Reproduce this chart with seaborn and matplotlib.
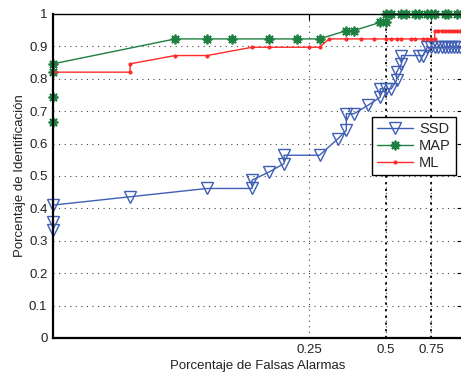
import numpy as np
import pandas as pd
import matplotlib
matplotlib.use("Agg")
import matplotlib.pyplot as plt
import seaborn as sns

# Operating points: false alarms counted in 40ths, identifications in 39ths
ssd_fa = [1, 1, 1, 2, 4, 6, 6, 7, 8, 8, 11, 13, 14, 14, 15, 17, 19, 19, 20, 21,
          22, 22, 23, 23, 27, 28, 29, 30, 31, 32, 33, 34, 35, 36, 37, 38, 39]
ssd_id = [13, 14, 16, 17, 18, 18, 19, 20, 21, 22, 22, 24, 25, 27, 27, 28, 29, 30, 30, 30,
          31, 32, 33, 34, 34, 34, 35, 35, 35, 35, 35, 35, 35, 35, 35, 35, 35]

map_fa = [1, 1, 1, 1, 3, 4, 5, 7, 9, 11, 14, 15, 19, 20, 20, 21, 23, 24, 26, 27,
          29, 30, 31, 34, 35, 38, 40]
map_id = [26, 29, 32, 33, 36, 36, 36, 36, 36, 36, 37, 37, 38, 38, 39, 39, 39, 39, 39, 39,
          39, 39, 39, 39, 39, 39, 39]

ml_fa = [1, 2, 2, 3, 4, 6, 7, 10, 11, 12, 14, 16, 18, 20, 21, 22, 23, 25, 26, 28,
         29, 30, 31, 31, 32, 33, 34, 35, 36, 37, 38, 39, 40]
ml_id = [32, 32, 33, 34, 34, 35, 35, 35, 35, 36, 36, 36, 36, 36, 36, 36, 36, 36, 36, 36,
         36, 36, 36, 37, 37, 37, 37, 37, 37, 37, 37, 37, 37]

n_fa, n_id = 40.0, 39.0
x_ticks = [0.25, 0.5, 0.75, 1.0]
x_tick_labels = ["0.25", "0.5", "0.75", ""]
y_ticks = [round(0.1 * i, 1) for i in range(11)]
y_tick_labels = ["0"] + [f"{v:.1f}" for v in y_ticks[1:-1]] + ["1"]

sns.set_style("white")
plt.rcParams["font.family"] = ["Liberation Sans", "DejaVu Sans"]

fig = plt.figure(figsize=(4.61, 3.75), dpi=100)
ax = fig.add_axes([53 / 461, 37 / 375, 410 / 461, 324 / 375])

series = [
    ("SSD", ssd_fa, ssd_id, dict(color="#3f5fb5", marker="v", markersize=8,
                                  markerfacecolor="none", markeredgecolor="#3f5fb5",
                                  markeredgewidth=1.0, linewidth=1.0)),
    ("MAP", map_fa, map_id, dict(color="#1e8040", marker=(8, 2, 0), markersize=7,
                                  markeredgecolor="#1e8040", markeredgewidth=1.3,
                                  linewidth=1.0)),
    ("ML", ml_fa, ml_id, dict(color="#ff2a2a", marker="o", markersize=2.2,
                               markeredgecolor="#ff2a2a", linewidth=1.0)),
]

for name, fa, ident, style in series:
    df = pd.DataFrame({"fa": np.array(fa) / n_fa, "id": np.array(ident) / n_id})
    sns.lineplot(data=df, x="fa", y="id", sort=False, estimator=None, ax=ax,
                 label=name, clip_on=False, **style)

ax.set_xscale("log")
ax.set_xlim(1 / n_fa, 1.0)
ax.set_ylim(0, 1)
ax.set_xticks(x_ticks)
ax.set_xticklabels(x_tick_labels)
ax.xaxis.set_minor_locator(matplotlib.ticker.NullLocator())
ax.set_yticks(y_ticks)
ax.set_yticklabels(y_tick_labels)

ax.tick_params(axis="both", direction="in", length=4, width=0.8, labelsize=9.5,
               top=True, right=True, colors="black", labelcolor="#222222", pad=4)
ax.grid(True, which="major", linestyle=(0, (1, 4)), color="#444444", linewidth=0.8)
for xv in (0.5, 0.75):
    ax.axvline(xv, color="black", linestyle=(0, (1.2, 2.5)), linewidth=1.3, zorder=1.5)

for side in ("left", "bottom"):
    ax.spines[side].set_linewidth(1.6)
for side in ("top", "right"):
    ax.spines[side].set_linewidth(1.0)
for sp in ax.spines.values():
    sp.set_color("black")

ax.set_xlabel("Porcentaje de Falsas Alarmas", fontsize=9.5, color="#222222", labelpad=3)
ax.set_ylabel("Porcentaje de Identificación", fontsize=9.5, color="#222222", labelpad=2)

leg = ax.legend(loc="upper right", bbox_to_anchor=(0.983, 0.682), fontsize=10.5,
                frameon=True, fancybox=False, edgecolor="black", framealpha=1,
                handlelength=2.5, handletextpad=0.4, labelspacing=0.2,
                borderpad=0.35, borderaxespad=0)
leg.get_frame().set_linewidth(1.0)

fig.savefig("out.png", dpi=100)
